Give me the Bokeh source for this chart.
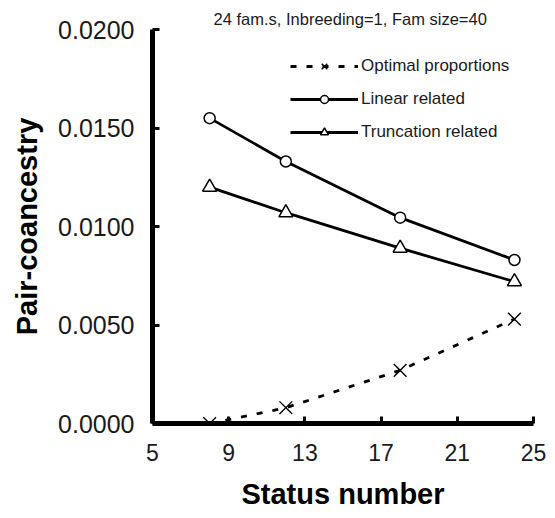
from bokeh.plotting import figure
from bokeh.models import Range1d, FixedTicker, NumeralTickFormatter, Legend, LegendItem, Title, Span
from bokeh.embed import file_html
from bokeh.resources import INLINE

status = [8, 12, 18, 24]
optimal = [0.0000, 0.0008, 0.0027, 0.0053]
linear = [0.0155, 0.0133, 0.01045, 0.0083]
truncation = [0.0120, 0.0107, 0.0089, 0.0072]
x_ticks = [5, 9, 13, 17, 21, 25]
y_ticks = [0.0, 0.005, 0.01, 0.015, 0.02]
FONT = "Liberation Sans"

p = figure(width=555, height=518, output_backend="svg", toolbar_location=None,
           x_range=Range1d(5, 25), y_range=Range1d(0, 0.02),
           min_border_left=152, min_border_right=22, min_border_top=29, min_border_bottom=95)
p.outline_line_color = None
p.grid.visible = False

for axes in (p.xaxis, p.yaxis):
    axes.axis_line_width = 5
    axes.axis_line_color = "#000000"
    axes.major_tick_in = 7
    axes.major_tick_out = 0
    axes.major_tick_line_width = 3
    axes.major_tick_line_color = "#000000"
    axes.minor_tick_line_color = None
    axes.major_label_text_font = FONT
    axes.major_label_text_color = "#1a1a1a"
    axes.axis_label_text_font = FONT
    axes.axis_label_text_font_style = "bold"
    axes.axis_label_text_font_size = "29px"
    axes.axis_label_text_color = "black"

p.xaxis.ticker = FixedTicker(ticks=x_ticks)
p.yaxis.ticker = FixedTicker(ticks=y_ticks)
p.yaxis.formatter = NumeralTickFormatter(format="0.0000")
p.xaxis.major_label_text_font_size = "23px"
p.yaxis.major_label_text_font_size = "25px"
p.xaxis.major_label_standoff = 20
p.yaxis.major_label_standoff = 18
p.xaxis.axis_label = "Status number"
p.yaxis.axis_label = "Pair-coancestry"
p.xaxis.axis_label_standoff = 14
p.yaxis.axis_label_standoff = 12

# reinforce the heavy axis lines at the frame edges
p.add_layout(Span(location=x_ticks[0], dimension="height", line_color="black", line_width=5))
p.add_layout(Span(location=y_ticks[0], dimension="width", line_color="black", line_width=5))

r_opt_l = p.line(status, optimal, line_color="black", line_width=2.8, line_dash="6 10")
r_opt_m = p.scatter(status, optimal, marker="x", size=18, line_color="black", line_width=1.4)
r_lin_l = p.line(status, linear, line_color="black", line_width=2.8)
r_lin_m = p.scatter(status, linear, marker="circle", size=11, line_color="black",
                    fill_color="white", line_width=1.5)
r_tr_l = p.line(status, truncation, line_color="black", line_width=2.8)
r_tr_m = p.scatter(status, truncation, marker="triangle", size=14, line_color="black",
                   fill_color="white", line_width=1.5)

legend = Legend(items=[
    LegendItem(label="Optimal proportions", renderers=[r_opt_l, r_opt_m]),
    LegendItem(label="Linear related", renderers=[r_lin_l, r_lin_m]),
    LegendItem(label="Truncation related", renderers=[r_tr_l, r_tr_m]),
], location=(138, 281))
legend.glyph_width = 68
legend.glyph_height = 20
legend.label_height = 20
legend.spacing = 13
legend.padding = 0
legend.margin = 0
legend.label_standoff = 3
legend.label_text_font = FONT
legend.label_text_font_size = "17px"
legend.label_text_color = "#1a1a1a"
legend.background_fill_alpha = 0
legend.border_line_color = None
p.add_layout(legend)

p.add_layout(Title(text="24 fam.s, Inbreeding=1, Fam size=40", align="left", offset=61,
                   text_font=FONT, text_font_size="16.5px", text_font_style="normal",
                   text_color="#1a1a1a", standoff=4), "above")

open("out.html", "w").write(file_html(p, INLINE))
